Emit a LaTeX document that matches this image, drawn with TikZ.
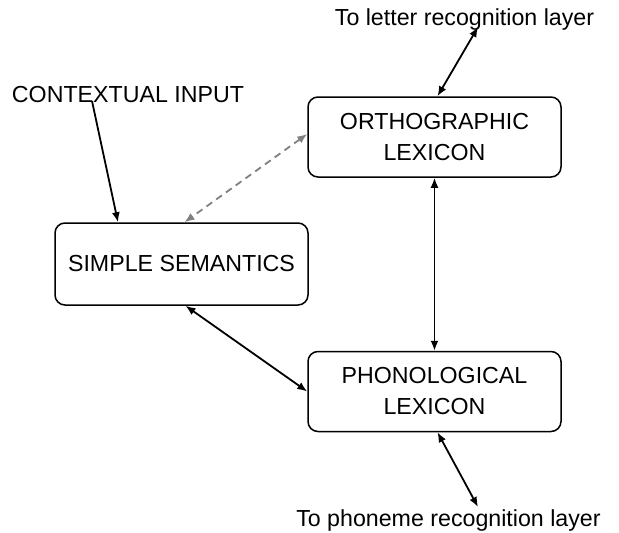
\documentclass[tikz,border=0pt]{standalone}
\usepackage{fontspec}
\setmainfont{Liberation Sans}
\usetikzlibrary{arrows.meta,positioning}

\begin{document}
\begin{tikzpicture}[x=1pt,y=-1pt,>={Latex[length=10pt,width=8pt]},font=\fontsize{23.2}{31}\selectfont]
	\tikzstyle{block} = [draw, rectangle, rounded corners=10pt, line width=1.5pt, align=center, minimum height=80pt, minimum width=253pt]
	\tikzstyle{link} = [<->, line width=1.8pt]
	\useasboundingbox (0,0) rectangle (619,533);
	
	\node [block] (ortho) at (434.5,137) {ORTHOGRAPHIC\\LEXICON};
	\node [block, below = 173pt of ortho] (phono) {PHONOLOGICAL\\LEXICON};
	\node [block, minimum height=82pt] (sem) at (181.5,264) {SIMPLE SEMANTICS};
	
	\node [inner sep=0pt] (letter) at (464.5,20) {To letter recognition layer};
	\node [inner sep=0pt] (context) at (128,95) {CONTEXTUAL INPUT};
	\node [inner sep=0pt] (phoneme) at (448.5,520) {To phoneme recognition layer};
	
	\coordinate (lettertip) at (478,27);
	\coordinate (contexttip) at (92,101);
	\coordinate (phonemetip) at (478,507);
	
	\draw [link] (lettertip) -- ([xshift=3pt]ortho.north);
	\draw [->, line width=1.8pt] (contexttip) -- ([xshift=-63.5pt]sem.north);
	\draw [link, dash pattern=on 7pt off 5pt, gray] ([yshift=3pt]ortho.west) -- ([xshift=3pt]sem.north);
	\draw [link] (ortho.south) -- (phono.north);
	\draw [link] ([xshift=4pt]sem.south) -- (phono.west);
	\draw [link] ([xshift=3pt]phono.south) -- (phonemetip);
	
\end{tikzpicture}
\end{document}
